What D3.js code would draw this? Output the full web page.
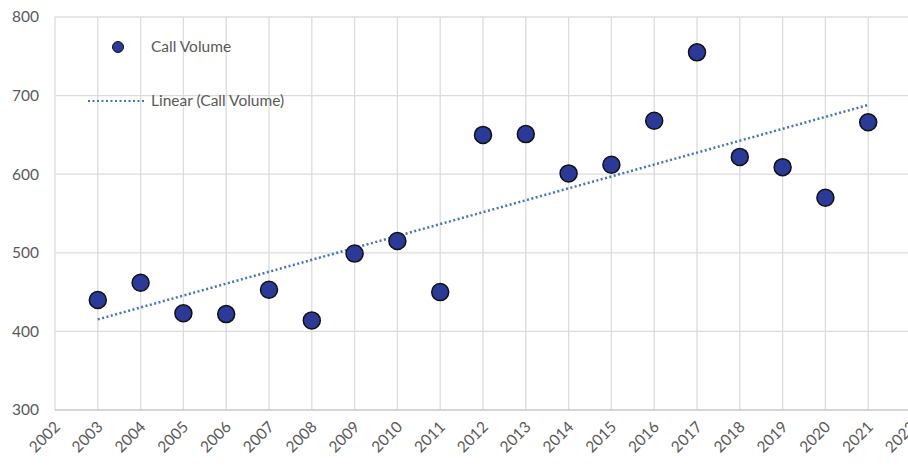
<!DOCTYPE html>
<html lang="en">
<head>
<meta charset="UTF-8">
<script src="https://d3js.org/d3.v7.min.js"></script>
<title>Call Volume</title>
<style>
  body { margin: 0; background: #fff; }
  text { font-family: Lato, "Open Sans", sans-serif; fill: #595959; }
</style>
</head>
<body>
<div id="canvas"></div>
<script>
const years = [2003, 2004, 2005, 2006, 2007, 2008, 2009, 2010, 2011, 2012,
               2013, 2014, 2015, 2016, 2017, 2018, 2019, 2020, 2021]
const callVolume = [440, 462, 423, 422, 453, 414, 499, 515, 450, 650,
                    651, 601, 612, 668, 755, 622, 609, 570, 666]
const xTicks = d3.range(2002, 2023)
const yTicks = [300, 400, 500, 600, 700, 800]

const width = 908, height = 470
const svg = d3.select("#canvas").append("svg").attr("width", width).attr("height", height)

const x = d3.scaleLinear().domain([2002, 2022]).range([55, 911])
const y = d3.scaleLinear().domain([300, 800]).range([410, 17])

// grid
svg.append("g").selectAll("line").data(xTicks).enter().append("line")
   .attr("x1", d => x(d)).attr("x2", d => x(d))
   .attr("y1", y(800)).attr("y2", y(300))
   .attr("stroke", "#dcdcdc").attr("stroke-width", 1.3)
svg.append("g").selectAll("line").data(yTicks).enter().append("line")
   .attr("x1", x(2002)).attr("x2", x(2022))
   .attr("y1", d => y(d)).attr("y2", d => y(d))
   .attr("stroke", d => d == 300 ? "#c8c8c8" : "#dcdcdc").attr("stroke-width", 1.3)

// y labels
svg.append("g").selectAll("text").data(yTicks).enter().append("text")
   .attr("x", 39).attr("y", d => y(d)).attr("dy", "0.35em")
   .attr("text-anchor", "end").attr("font-size", 15.5)
   .text(d => d)

// x labels
svg.append("g").selectAll("text").data(xTicks).enter().append("text")
   .attr("transform", d => `translate(${x(d) + 6},${y(300) + 18}) rotate(-45)`)
   .attr("text-anchor", "end").attr("font-size", 15.5)
   .text(d => d)

// linear trendline (least squares over the points)
const mx = d3.mean(years), my = d3.mean(callVolume)
const slope = d3.sum(years, (d, i) => (d - mx) * (callVolume[i] - my)) / d3.sum(years, d => (d - mx) * (d - mx))
const fit = v => my + slope * (v - mx)
const ends = [years[0], years[years.length - 1]]
svg.append("path")
   .attr("d", d3.line().x(d => x(d)).y(d => y(fit(d)))(ends))
   .attr("fill", "none").attr("stroke", "#4472c4").attr("stroke-width", 2.5)
   .attr("stroke-dasharray", "2,2.5")

// points
svg.append("g").selectAll("circle").data(years).enter().append("circle")
   .attr("cx", d => x(d)).attr("cy", (d, i) => y(callVolume[i])).attr("r", 8.5)
   .attr("fill", "#2b3a99").attr("stroke", "#111").attr("stroke-width", 1.5)

// legend
const legend = svg.append("g")
legend.append("circle").attr("cx", 118).attr("cy", 47).attr("r", 5.5)
      .attr("fill", "#2b3a99").attr("stroke", "#111").attr("stroke-width", 1)
legend.append("text").attr("x", 151).attr("y", 47).attr("dy", "0.35em")
      .attr("font-size", 15.5).text("Call Volume")
legend.append("line").attr("x1", 88).attr("x2", 144).attr("y1", 101).attr("y2", 101)
      .attr("stroke", "#4472c4").attr("stroke-width", 2).attr("stroke-dasharray", "2,2.5")
legend.append("text").attr("x", 151).attr("y", 101).attr("dy", "0.35em")
      .attr("font-size", 15.5).text("Linear (Call Volume)")
</script>
</body>
</html>
